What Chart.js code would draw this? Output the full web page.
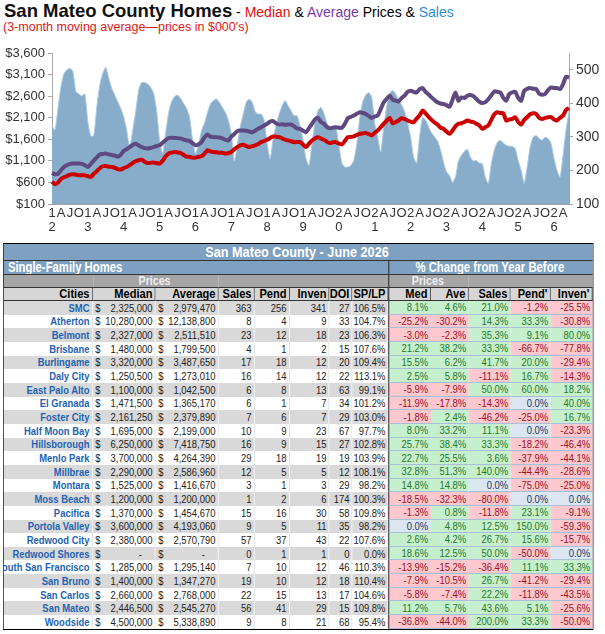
<!DOCTYPE html>
<html>
<head>
<meta charset="utf-8">
<script src="https://cdn.jsdelivr.net/npm/chart.js@4.4.1/dist/chart.umd.min.js"></script>
<style>
  body { margin: 0; width: 605px; height: 634px; background: #fff; position: relative; overflow: hidden;
         font-family: 'Liberation Sans', Arial, sans-serif; }
  #title { position: absolute; left: 4px; top: 0; line-height: 22px; white-space: nowrap; }
  #title .big { font-size: 18.5px; font-weight: bold; color: #111; }
  #title .small { font-size: 14px; }
  #sub { position: absolute; left: 3px; top: 19.5px; line-height: 15px; font-size: 12.5px; color: #e01818; white-space: nowrap; }
  #chartBox { position: absolute; left: 0; top: 36px; width: 605px; height: 204px; }

  /* table is laid out wide and squeezed horizontally to get the narrow spreadsheet look */
  table { position: absolute; left: 3px; top: 243px; width: 718px; transform: scaleX(0.82); transform-origin: 0 0;
          border-collapse: separate; border-spacing: 0; table-layout: fixed; border: 1.5px solid #000;
          font-size: 11.5px; color: #222; }
  td { box-sizing: border-box; padding: 0 3px 0 0; height: 13.67px; line-height: 12px; text-align: right;
       white-space: nowrap; overflow: hidden; }
  tr.head1 td { background: #7fa1c1; color: #fff; font-weight: bold; font-size: 15.5px; text-align: center;
                height: 17px; line-height: 16px; border-bottom: 1px solid #333; }
  tr.head2 td { background: #7fa1c1; color: #fff; font-weight: bold; font-size: 13.8px; height: 14px; line-height: 13px;
                border-bottom: 1px solid #333; }
  tr.head3 td { background: #a5a5a5; color: #eee; font-weight: bold; font-size: 13px; text-align: center;
                height: 13px; line-height: 12px; border-bottom: 1px solid #333; }
  tr.head4 td { background: #d6d6d6; color: #000; font-weight: bold; font-size: 13.5px; height: 13px; line-height: 12px;
                border-right: 1px solid #333; border-bottom: 1px solid #333; }
  td.city { color: #1f64b4; font-weight: bold; }
  td.city div { display: flex; justify-content: flex-end; overflow: hidden; }
  tr.g td.l { background: #d9d9d9; border-right: 1px solid #fff; }
  tr.w td.l { background: #fff; border-right: 1px solid #d6d6d6; }
  td.money span { float: left; padding-left: 3px; }
  td.sep { border-left: 1.5px solid #000; }
  td.pos { background: #c6efce; color: #257a25; border-bottom: 1px solid #a8bfd8; }
  td.neg { background: #ffc7ce; color: #a0101a; border-bottom: 1px solid #a8bfd8; }
  td.zero { background: #dce6f1; color: #1f3864; border-bottom: 1px solid #a8bfd8; }
</style>
</head>
<body>
<div id="title"><span class="big">San Mateo County Homes</span><span class="small"> - <span style="color:#e01010">Median</span> &amp; <span style="color:#7a3aa8">Average</span> Prices &amp; <span style="color:#2a8fd8">Sales</span></span></div>
<div id="sub">(3-month moving average—prices in $000's)</div>
<div id="chartBox"><canvas id="homesChart" width="605" height="204"></canvas></div>
<table id="cityTable"></table>

<script>
// monthly, Jan 2012 - Jun 2026
const years = [2012, 2013, 2014, 2015, 2016, 2017, 2018, 2019, 2020, 2021, 2022, 2023, 2024, 2025, 2026];
const monthTicks = ['', '', '', 'A', '', '', 'J', '', '', 'O', '', ''];
const lastMonth = 6; // June of final year

// prices in $000's (left axis)
const medianPrice = [
  614, 561, 600, 680, 720, 745, 780, 791, 780, 768, 768, 768,
  745, 729, 800, 860, 930, 975, 982, 965, 959, 940, 910, 899,
  930, 959, 1000, 1051, 1090, 1115, 1129, 1080, 1051, 1055, 1060, 1050,
  1037, 1100, 1200, 1268, 1290, 1305, 1295, 1282, 1240, 1200, 1190, 1175,
  1175, 1190, 1205, 1260, 1344, 1320, 1305, 1300, 1290, 1290, 1268, 1280,
  1305, 1370, 1420, 1460, 1475, 1440, 1420, 1440, 1459, 1490, 1535, 1560,
  1590, 1630, 1666, 1660, 1650, 1620, 1590, 1574, 1555, 1535, 1535, 1535,
  1480, 1420, 1500, 1574, 1620, 1650, 1620, 1590, 1540, 1512, 1530, 1535,
  1500, 1482, 1560, 1650, 1655, 1666, 1700, 1728, 1735, 1743, 1720, 1689,
  1750, 1804, 1880, 1958, 2030, 2096, 1972, 2000, 2035, 2090, 2070, 2035,
  2010, 1996, 2080, 2150, 2265, 2200, 2120, 2050, 1990, 1942, 1870, 1843,
  1780, 1728, 1800, 1900, 1958, 1972, 2000, 2035, 2010, 1996, 1960, 1920,
  1843, 1880, 1920, 2050, 2180, 2226, 2210, 2203, 2035, 2060, 2073, 2111,
  2000, 1942, 2050, 2111, 2180, 2203, 2188, 2100, 2073, 2096, 2111, 2111,
  2060, 2035, 2100, 2150, 2280, 2326
];
const averagePrice = [
  820, 790, 800, 880, 960, 1000, 1030, 1037, 1037, 1037, 1030, 1000,
  960, 1030, 1113, 1180, 1245, 1260, 1268, 1250, 1235, 1225, 1195, 1240,
  1330, 1370, 1420, 1470, 1498, 1460, 1420, 1395, 1385, 1400, 1420, 1445,
  1460, 1520, 1580, 1630, 1636, 1630, 1627, 1620, 1595, 1575, 1560, 1510,
  1460, 1480, 1535, 1640, 1712, 1660, 1650, 1650, 1640, 1620, 1590, 1574,
  1660, 1720, 1790, 1804, 1804, 1800, 1780, 1765, 1800, 1843, 1880, 1920,
  1960, 2010, 2019, 1970, 1940, 1950, 1935, 1940, 1942, 1900, 1850, 1843,
  1800, 1765, 1860, 1958, 2060, 2096, 2000, 1958, 1880, 1858, 1870, 1881,
  1870, 1866, 1960, 2090, 2120, 2150, 2190, 2226, 2210, 2188, 2140, 2096,
  2130, 2150, 2300, 2456, 2540, 2610, 2520, 2495, 2479, 2560, 2610, 2700,
  2725, 2700, 2686, 2760, 2787, 2700, 2640, 2571, 2510, 2456, 2430, 2418,
  2390, 2357, 2511, 2686, 2495, 2570, 2557, 2610, 2626, 2600, 2534, 2470,
  2441, 2460, 2530, 2620, 2710, 2700, 2686, 2560, 2495, 2649, 2690, 2702,
  2560, 2495, 2725, 2770, 2787, 2770, 2764, 2660, 2633, 2649, 2740, 2802,
  2790, 2787, 2764, 2879, 3048, 3033
];
// number of sales (right axis)
const salesCount = [
  334, 320, 385, 450, 488, 500, 504, 495, 435, 428, 422, 428,
  345, 302, 305, 390, 455, 490, 507, 475, 445, 425, 405, 385,
  360, 320, 270, 320, 375, 440, 462, 462, 458, 448, 430, 380,
  290, 250, 310, 370, 405, 420, 425, 415, 400, 385, 360, 295,
  250, 275, 318, 340, 372, 398, 408, 413, 403, 388, 373, 350,
  310, 228, 275, 330, 368, 403, 413, 403, 375, 368, 368, 350,
  278, 235, 294, 336, 368, 393, 408, 393, 378, 363, 363, 334,
  290, 235, 215, 280, 340, 378, 388, 370, 342, 330, 332, 328,
  275, 222, 210, 210, 215, 230, 280, 360, 405, 425, 432, 418,
  340, 300, 255, 330, 390, 430, 438, 428, 410, 395, 375, 340,
  300, 240, 222, 300, 358, 350, 330, 312, 300, 288, 262, 225,
  196, 185, 165, 180, 228, 245, 257, 263, 240, 228, 230, 222,
  220, 180, 161, 220, 260, 284, 290, 282, 275, 272, 272, 265,
  230, 200, 162, 210, 270, 299, 304, 295, 290, 299, 295, 280,
  235, 200, 180, 245, 320, 375
];

const months = [];
years.forEach(function (y) {
  for (let m = 1; m <= 12; m++) {
    if (y === years[years.length - 1] && m > lastMonth) break;
    months.push(y + '-' + String(m).padStart(2, '0'));
  }
});

const fontFamily = "'Liberation Sans', Arial, sans-serif";

new Chart(document.getElementById('homesChart'), {
  type: 'line',
  data: {
    labels: months,
    datasets: [{
      label: 'Median',
      data: medianPrice,
      borderColor: '#cc0000',
      borderWidth: 4,
      pointRadius: 0,
      tension: 0.25,
      yAxisID: 'y',
      order: 1
    }, {
      label: 'Average',
      data: averagePrice,
      borderColor: '#5e4a80',
      borderWidth: 4,
      pointRadius: 0,
      tension: 0.25,
      yAxisID: 'y',
      order: 2
    }, {
      label: 'Sales',
      data: salesCount,
      borderColor: '#aecbe2',
      borderWidth: 1,
      backgroundColor: '#88adca',
      fill: 'start',
      pointRadius: 0,
      tension: 0.2,
      yAxisID: 'y1',
      order: 3
    }]
  },
  options: {
    responsive: false,
    animation: false,
    layout: { padding: { top: 17 } },
    plugins: { legend: { display: false }, tooltip: { enabled: false } },
    scales: {
      x: {
        offset: false,
        grid: { display: false, drawTicks: false },
        border: { display: true, color: '#a6a6a6' },
        ticks: {
          autoSkip: false, maxRotation: 0, minRotation: 0, padding: 2,
          color: '#333', font: { size: 13, family: fontFamily, lineHeight: 1.1 },
          callback: function (val, i) {
            const m = i % 12;
            if (m === 0) {
              const y = String(years[Math.floor(i / 12)]);
              return [y[2], y[3]];
            }
            return monthTicks[m];
          }
        },
        afterFit: function (s) { s.height = 36; }
      },
      y: {
        position: 'left',
        min: 100, max: 3600,
        grid: { drawOnChartArea: false, tickLength: 4, color: '#a6a6a6' },
        border: { color: '#a6a6a6' },
        ticks: {
          stepSize: 500, padding: 3, color: '#333', font: { size: 13, family: fontFamily },
          callback: function (v) { return '$' + v.toLocaleString('en-US'); }
        },
        afterFit: function (s) { s.width = 52; }
      },
      y1: {
        position: 'right',
        min: 100, max: 550,
        grid: { drawOnChartArea: false, tickLength: 4, color: '#a6a6a6' },
        border: { color: '#a6a6a6' },
        ticks: { stepSize: 50, padding: 3, color: '#333', font: { size: 14, family: fontFamily } },
        afterFit: function (s) { s.width = 36; }
      }
    }
  }
});

// --- table: San Mateo County - June 2026 ---
const cities = ['SMC', 'Atherton', 'Belmont', 'Brisbane', 'Burlingame', 'Daly City', 'East Palo Alto', 'El Granada',
  'Foster City', 'Half Moon Bay', 'Hillsborough', 'Menlo Park', 'Millbrae', 'Montara', 'Moss Beach', 'Pacifica',
  'Portola Valley', 'Redwood City', 'Redwood Shores', 'South San Francisco', 'San Bruno', 'San Carlos', 'San Mateo', 'Woodside'];
const medians = [2325000, 10280000, 2327000, 1480000, 3320000, 1250500, 1100000, 1471500, 2161250, 1695000, 6250000, 3700000,
  2290000, 1525000, 1200000, 1370000, 3600000, 2380000, 0, 1285000, 1400000, 2660000, 2446500, 4500000];
const averages = [2979470, 12138800, 2511510, 1799500, 3487650, 1273010, 1042500, 1365170, 2379890, 2199000, 7418750, 4264390,
  2586960, 1416670, 1200000, 1454670, 4193060, 2570790, 0, 1295140, 1347270, 2768000, 2545270, 5338890];
const sales = [363, 8, 23, 4, 17, 16, 6, 6, 7, 10, 16, 29, 12, 3, 1, 15, 9, 57, 0, 7, 19, 22, 56, 9];
const pend = [256, 4, 12, 1, 18, 14, 8, 1, 6, 9, 9, 18, 5, 1, 2, 16, 5, 37, 1, 10, 10, 15, 41, 8];
const inven = [341, 9, 18, 2, 12, 12, 13, 7, 7, 23, 15, 19, 5, 3, 6, 30, 11, 43, 1, 12, 12, 13, 29, 21];
const doi = [27, 33, 23, 15, 20, 22, 63, 34, 29, 67, 27, 19, 12, 29, 174, 58, 35, 22, 0, 46, 18, 17, 15, 68];
const spLp = [106.5, 104.7, 106.3, 107.6, 109.4, 113.1, 99.1, 101.2, 103.0, 97.7, 102.8, 103.9, 108.1, 98.2, 100.3, 109.8,
  98.2, 107.6, 0.0, 110.3, 110.4, 104.6, 109.8, 95.4];
const chgMed = [8.1, -25.2, -3.0, 21.2, 15.5, 2.5, -5.9, -11.9, -1.8, 8.0, 25.7, 22.7, 32.8, 14.8, -18.5, -1.3, 0.0, 2.6, 18.6,
  -13.9, -7.9, -5.8, 11.2, -36.8];
const chgAve = [4.6, -30.2, -2.3, 38.2, 6.2, 5.8, -7.9, -17.8, 2.4, 33.2, 38.4, 25.5, 51.3, 14.8, -32.3, 0.8, 4.8, 4.2, 12.5,
  -15.2, -10.5, -7.4, 5.7, -44.0];
const chgSales = [21.0, 14.3, 35.3, 33.3, 41.7, -11.1, 50.0, -14.3, -46.2, 11.1, 33.3, 3.6, 140.0, 0.0, -80.0, -11.8, 12.5,
  26.7, 50.0, -36.4, 26.7, 22.2, 43.6, 200.0];
const chgPend = [-1.2, 33.3, 9.1, -66.7, 20.0, 16.7, 60.0, 0.0, -25.0, 0.0, -18.2, -37.9, -44.4, -75.0, 0.0, 23.1, 150.0,
  15.6, -50.0, 11.1, -41.2, -11.8, 5.1, 33.3];
const chgInven = [-25.5, -30.8, 80.0, -77.8, -29.4, -14.3, 18.2, 40.0, 16.7, -23.3, -46.4, -44.1, -28.6, -25.0, 0.0, -9.1,
  -59.3, -15.7, 0.0, 33.3, -29.4, -43.5, -25.6, -50.0];

// widths before the 0.82 squeeze
const colWidths = [108.5, 76.8, 76.8, 43.9, 42.7, 48.8, 28, 43.9, 51.2, 46.3, 51.2, 48.8, 51.2];
const leftHeads = ['Cities', 'Median', 'Average', 'Sales', 'Pend', 'Inven', 'DOI', 'SP/LP'];
const rightHeads = ['Med', 'Ave', 'Sales', "Pend'", "Inven'"];

function money(v) {
  if (!v) return '<span>$</span>-&nbsp;&nbsp;&nbsp;&nbsp;';
  return '<span>$</span>' + v.toLocaleString('en-US');
}
function pct(v) { return v.toFixed(1) + '%'; }
function chgCell(v, first) {
  const cls = v > 0 ? 'pos' : (v < 0 ? 'neg' : 'zero');
  return '<td class="' + cls + (first ? ' sep' : '') + '">' + pct(v) + '</td>';
}

let html = '<colgroup>' + colWidths.map(function (w) { return '<col style="width:' + w + 'px">'; }).join('') + '</colgroup>';
html += '<tr class="head1"><td colspan="13">San Mateo County - June 2026</td></tr>';
html += '<tr class="head2"><td colspan="8" style="text-align:left;padding-left:5px">Single-Family Homes</td>' +
        '<td colspan="5" class="sep" style="text-align:center">% Change from Year Before</td></tr>';
html += '<tr class="head3"><td></td><td colspan="2">Prices</td><td colspan="5"></td>' +
        '<td colspan="2" class="sep">Prices</td><td colspan="3"></td></tr>';
html += '<tr class="head4">' + leftHeads.map(function (h) { return '<td>' + h + '</td>'; }).join('') +
        rightHeads.map(function (h, i) { return '<td' + (i === 0 ? ' class="sep"' : '') + '>' + h + '</td>'; }).join('') + '</tr>';
cities.forEach(function (c, i) {
  html += '<tr class="' + (i % 2 === 0 ? 'g' : 'w') + '">' +
    '<td class="l city"><div>' + c + '</div></td>' +
    '<td class="l money">' + money(medians[i]) + '</td>' +
    '<td class="l money">' + money(averages[i]) + '</td>' +
    '<td class="l">' + sales[i] + '</td>' +
    '<td class="l">' + pend[i] + '</td>' +
    '<td class="l">' + inven[i] + '</td>' +
    '<td class="l">' + doi[i] + '</td>' +
    '<td class="l">' + pct(spLp[i]) + '</td>' +
    chgCell(chgMed[i], true) + chgCell(chgAve[i]) + chgCell(chgSales[i]) + chgCell(chgPend[i]) + chgCell(chgInven[i]) +
    '</tr>';
});
document.getElementById('cityTable').innerHTML = html;
</script>
</body>
</html>
